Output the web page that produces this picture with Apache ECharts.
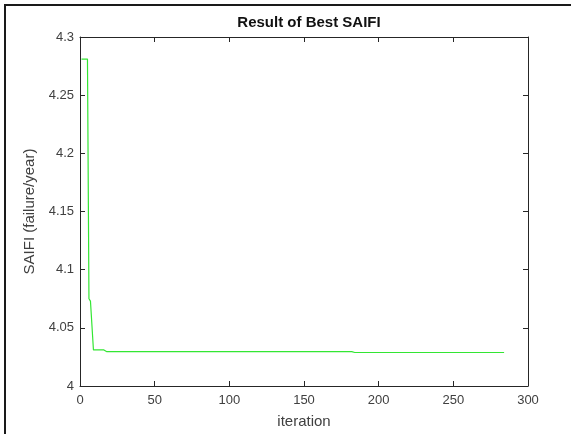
<!DOCTYPE html>
<html>
<head>
<meta charset="utf-8">
<script src="https://cdn.jsdelivr.net/npm/echarts@6/dist/echarts.min.js"></script>
<style>
  html, body { margin: 0; padding: 0; background: #fff; overflow: hidden; }
  #frame { position: absolute; left: 4px; top: 4px; width: 567px; height: 430px;
           border-left: 2px solid #1a1a1a; border-top: 2px solid #1a1a1a; box-sizing: border-box; }
  #chart { position: absolute; left: 0; top: 0; width: 571px; height: 434px; }
</style>
</head>
<body>
<div id="frame"></div>
<div id="chart"></div>
<script>
// iteration / best SAIFI pairs
const iterations = [1, 5, 6, 7, 9, 16, 18, 182, 184, 284];
const saifi = [4.281, 4.281, 4.075, 4.073, 4.031, 4.031, 4.0295, 4.0295, 4.0288, 4.0288];
const yTicks = [4, 4.05, 4.1, 4.15, 4.2, 4.25, 4.3];

const chart = echarts.init(document.getElementById("chart"));

const axisText = { color: "#404040", fontSize: 13, fontFamily: "Liberation Sans, Arial" };
const lineStyle = { color: "#262626", width: 1 };

const option = {
  animation: false,
  title: {
    text: "Result of Best SAIFI",
    left: 304,
    textAlign: "center",
    top: 10,
    textStyle: { fontSize: 15, fontWeight: "bold", color: "#111", fontFamily: "Liberation Sans, Arial" },
  },
  grid: { left: 80, right: 43, top: 37, bottom: 44 },
  xAxis: [
    {
      type: "value",
      min: 0,
      max: 300,
      interval: 50,
      name: "iteration",
      nameLocation: "middle",
      nameGap: 28,
      nameTextStyle: { ...axisText, fontSize: 15 },
      axisLine: { onZero: false, lineStyle },
      axisTick: { inside: true, length: 5, lineStyle },
      axisLabel: { ...axisText, margin: 8 },
      splitLine: { show: false },
    },
    {
      type: "value",
      position: "top",
      min: 0,
      max: 300,
      interval: 50,
      axisLine: { onZero: false, lineStyle },
      axisTick: { inside: true, length: 5, lineStyle },
      axisLabel: { show: false },
      splitLine: { show: false },
    },
  ],
  yAxis: [
    {
      type: "value",
      min: 4,
      max: 4.3,
      interval: 0.05,
      name: "SAIFI (failure/year)",
      nameLocation: "middle",
      nameGap: 38,
      nameTextStyle: { ...axisText, fontSize: 15 },
      axisLine: { show: true, onZero: false, lineStyle },
      axisTick: { show: true, inside: true, length: 5, lineStyle },
      axisLabel: {
        ...axisText,
        margin: 6,
        formatter: (v) => {
          const t = yTicks.find((k) => Math.abs(k - v) < 1e-6);
          return t === undefined ? "" : String(t);
        },
      },
      splitLine: { show: false },
    },
    {
      type: "value",
      position: "right",
      min: 4,
      max: 4.3,
      interval: 0.05,
      axisLine: { show: true, onZero: false, lineStyle },
      axisTick: { show: true, inside: true, length: 5, lineStyle },
      axisLabel: { show: false },
      splitLine: { show: false },
    },
  ],
  series: [
    {
      type: "line",
      data: iterations.map((x, i) => [x, saifi[i]]),
      showSymbol: false,
      lineStyle: { color: "#33e633", width: 1.2 },
      xAxisIndex: 0,
      yAxisIndex: 0,
    },
  ],
};

chart.setOption(option);
</script>
</body>
</html>
